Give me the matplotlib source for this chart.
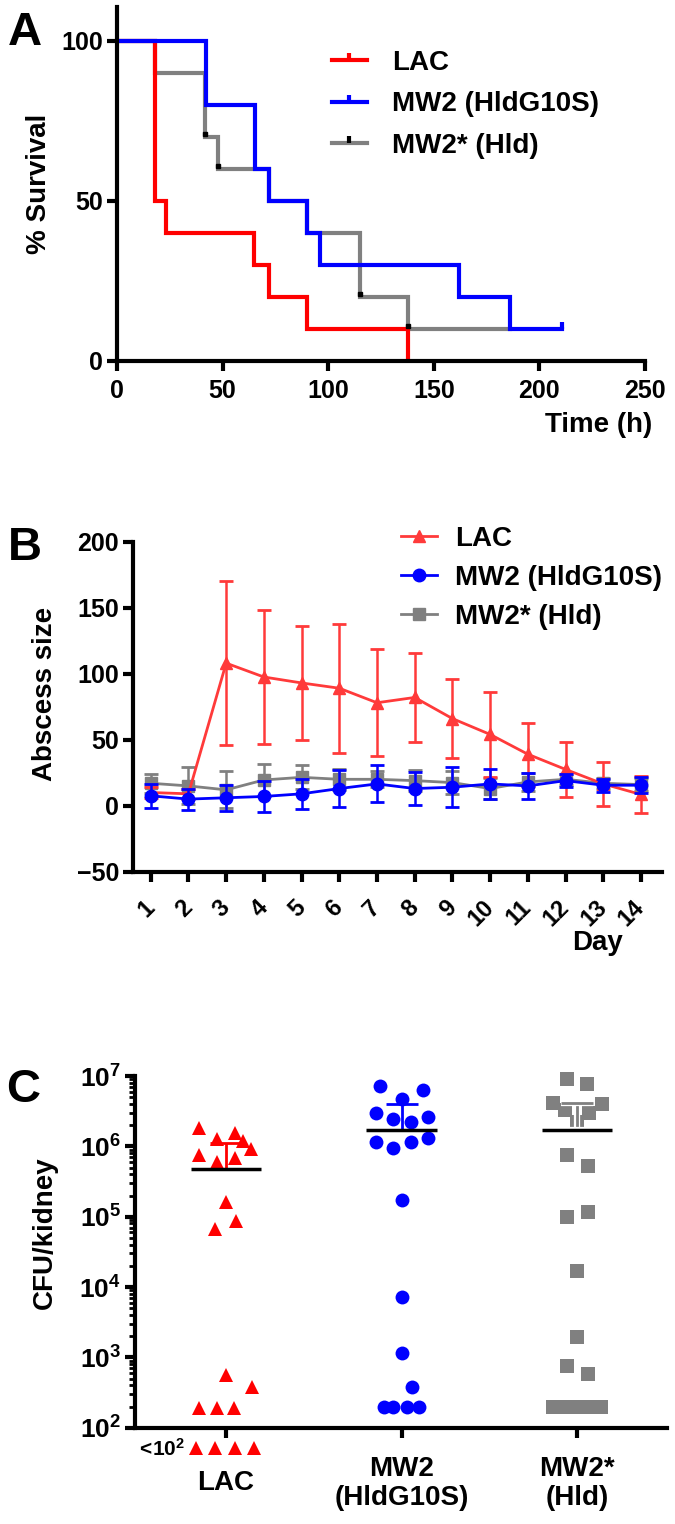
import numpy as np
import matplotlib
matplotlib.use("Agg")
import matplotlib.pyplot as plt
from matplotlib.lines import Line2D
from matplotlib.path import Path
import matplotlib.patheffects as pe

plt.rcParams['font.family'] = ['Liberation Sans', 'DejaVu Sans']
plt.rcParams['font.weight'] = 'bold'
plt.rcParams['axes.labelweight'] = 'bold'
plt.rcParams['axes.linewidth'] = 3
plt.rcParams['mathtext.fontset'] = 'custom'
plt.rcParams['mathtext.rm'] = 'Liberation Sans:bold'
plt.rcParams['mathtext.bf'] = 'Liberation Sans:bold'

RED, BLUE, GRAY = '#ff0000', '#0000ff', '#808080'
RED_B = '#ff3a3a'

# =========================
# A. survival data (time in h, % survival)
# =========================
names = ['LAC', 'MW2 (HldG10S)', 'MW2* (Hld)']
lac_t = [0, 18, 23, 65, 72, 90, 138]
lac_s = [100, 50, 40, 30, 20, 10, 0]
mw2_t = [0, 42, 65.5, 72, 90, 96, 162, 186, 210.5]
mw2_s = [100, 80, 60, 50, 40, 30, 20, 10, 10]
hld_t = [0, 18, 41.5, 48, 72, 90, 115, 138, 186]
hld_s = [100, 90, 70, 60, 50, 40, 20, 10, 10]
hld_cens_t = [41.5, 48, 115, 138]
hld_cens_s = [71, 61, 21, 11]
mw2_cens_t = [210.5]
mw2_cens_s = [10]

# =========================
# B. abscess size (mean, SD) per day
# =========================
days = np.arange(1, 15)
lac_m = [10, 9, 108, 97.5, 93, 89, 78, 82, 66, 54, 39, 27.5, 16.5, 8.5]
lac_sd = [4, 4, 62, 51, 43, 49, 40.5, 33.5, 30, 32, 24, 21, 16.5, 14]
mw2_m = [7.5, 5, 6, 7, 9, 13, 16.5, 13, 14, 16.5, 15, 19, 15.5, 15.5]
mw2_sd = [9, 8, 10, 12, 11.5, 14, 14, 12.5, 15, 11.5, 10, 5, 5, 6]
hld_m = [17, 15, 12, 19.5, 21.5, 20, 20, 19, 17.5, 13, 18, 20, 17, 16]
hld_sd = [7, 14, 14, 12, 9, 8, 6, 8, 9, 8, 7, 4, 4, 5]

# =========================
# C. CFU per kidney (jitter offsets)
# =========================
groups = ['LAC', 'MW2\n(HldG10S)', 'MW2*\n(Hld)']
lac_cfu = [1.82e6, 1.28e6, 1.54e6, 1.2e6, 9.1e5, 7.6e5, 6.9e5, 6.0e5, 1.64e5, 8.8e4, 6.6e4,
           5.6e2, 3.8e2, 1.9e2, 1.9e2, 1.9e2, 52, 52, 52, 52]
lac_dx = [-0.154, -0.053, 0.051, 0.095, 0.142, -0.154, 0.051, -0.053, 0, 0.057, -0.063,
          0, 0.15, -0.154, -0.053, 0.047, -0.171, -0.063, 0.051, 0.159]
mw2_cfu = [7.3e6, 6.3e6, 4.7e6, 3.0e6, 2.65e6, 2.45e6, 2.23e6, 1.17e6, 1.31e6, 1.15e6, 9.4e5,
           1.74e5, 7.3e3, 1.17e3, 3.8e2, 1.95e2, 1.95e2, 1.95e2, 1.95e2]
mw2_dx = [-0.12, 0.121, 0, -0.148, 0.152, -0.05, 0.055, -0.148, 0.152, 0.055, -0.05,
          0, 0, 0, 0.06, -0.1, -0.047, 0.032, 0.1]
hld_cfu = [9.0e6, 7.7e6, 4.1e6, 4.0e6, 3.3e6, 2.96e6, 2.2e6, 7.6e5, 5.3e5, 1.18e5, 1.0e5,
           1.7e4, 1.93e3, 7.6e2, 5.8e2, 2e2, 2e2, 2e2, 2e2, 2e2]
hld_dx = [-0.06, 0.057, -0.14, 0.139, -0.07, 0.068, 0, -0.06, 0.059, 0.059, -0.06,
          0, 0, -0.06, 0.059, -0.138, -0.07, 0, 0.07, 0.138]
cfu_mean = [4.75e5, 1.68e6, 1.68e6]
cfu_upper = [1.1e6, 4.0e6, 4.1e6]

W, H = 675, 1524
fig = plt.figure(figsize=(W / 100, H / 100), dpi=100)


def box(l, t, r, b):
    return [l / W, 1 - b / H, (r - l) / W, (b - t) / H]


def clean(ax):
    ax.spines['top'].set_visible(False)
    ax.spines['right'].set_visible(False)
    ax.tick_params(width=3, length=7, labelsize=18, pad=3)


up_tick = Path([(0, 0), (0, 1)])

# ---- A ----
axA = fig.add_axes(box(117, 7, 645, 361))
clean(axA)
for t, s, c in [(hld_t, hld_s, GRAY), (lac_t, lac_s, RED), (mw2_t, mw2_s, BLUE)]:
    axA.step(t, s, where='post', color=c, lw=3, solid_joinstyle='miter')
axA.plot(hld_cens_t, hld_cens_s, ls='none', marker='s', ms=3, color='black')
axA.plot(mw2_cens_t, mw2_cens_s, ls='none', marker=up_tick, ms=10, mew=3, mec=BLUE)
axA.set_xlim(0, 250)
axA.set_ylim(0, 110.6)
axA.set_xticks([0, 50, 100, 150, 200, 250])
axA.set_yticks([0, 50, 100])
axA.tick_params(axis='x', pad=6)
handlesA = [Line2D([], [], color=c, lw=3, marker=up_tick, ms=10, mew=3, mec=mc)
            for c, mc in [(RED, RED), (BLUE, BLUE), (GRAY, 'black')]]
axA.legend(handlesA, names, loc='upper left', bbox_to_anchor=(332 / W, 1 - 50 / H),
           bbox_transform=fig.transFigure, frameon=False, fontsize=20, borderpad=0,
           borderaxespad=0, handlelength=1.25, handletextpad=0.9, labelspacing=0.55)

# ---- B ----
axB = fig.add_axes(box(133, 541.7, 661.7, 871.7))
clean(axB)
styles = [(hld_m, hld_sd, GRAY, 's', 8, 1),
          (lac_m, lac_sd, RED_B, '^', 9, 2),
          (mw2_m, mw2_sd, BLUE, 'o', 9, 3)]
for m, sd, c, mk, ms, z in styles:
    axB.errorbar(days, m, yerr=sd, color=c, marker=mk, ms=ms, lw=2, elinewidth=1.8,
                 capsize=5, capthick=2, zorder=z)
axB.set_xlim(0.53, 14.55)
axB.set_ylim(-50, 200)
axB.set_yticks([-50, 0, 50, 100, 150, 200])
axB.set_xticks(days)
axB.set_xticklabels([str(d) for d in days], rotation=45, ha='right', va='center',
                    rotation_mode='anchor', fontsize=17)
axB.tick_params(axis='x', pad=16)
handlesB = [Line2D([], [], color=c, lw=2, marker=mk, ms=ms)
            for c, mk, ms in [(RED_B, '^', 9), (BLUE, 'o', 9), (GRAY, 's', 8)]]
axB.legend(handlesB, names, loc='upper left', bbox_to_anchor=(401 / W, 1 - 526 / H),
           bbox_transform=fig.transFigure, frameon=False, fontsize=20, borderpad=0,
           borderaxespad=0, handlelength=1.3, handletextpad=0.65, labelspacing=0.46)

# ---- C ----
axC = fig.add_axes(box(135, 1076, 666.7, 1427.7))
clean(axC)
axC.set_yscale('log')
axC.set_ylim(1e2, 1e7)
axC.set_xlim(-0.518, 2.51)
pts = [(lac_cfu, lac_dx, RED, '^', 10.5), (mw2_cfu, mw2_dx, BLUE, 'o', 10),
       (hld_cfu, hld_dx, GRAY, 's', 10)]
for i, (v, dx, c, mk, ms) in enumerate(pts):
    axC.plot(i + np.array(dx), v, ls='none', marker=mk, ms=ms, color=c, mew=0,
             clip_on=False, zorder=2)
err_cols = [RED, BLUE, GRAY]
for i in range(3):
    eb = axC.errorbar([i], [cfu_mean[i]], yerr=[[0], [cfu_upper[i] - cfu_mean[i]]],
                      color=err_cols[i], lw=2, capsize=11.5, capthick=2, zorder=3)
    if i == 2:
        for art in eb.lines[1] + eb.lines[2]:
            art.set_path_effects([pe.withStroke(linewidth=4.5, foreground='white')])
    axC.hlines(cfu_mean[i], i - 0.2, i + 0.2, color='black', lw=2.5, zorder=4)
axC.set_yticks([10.0 ** k for k in range(2, 8)])
axC.set_yticklabels([r'$\mathbf{10^{%d}}$' % k for k in range(2, 8)], fontsize=19)
axC.yaxis.set_minor_locator(matplotlib.ticker.LogLocator(base=10, subs=np.arange(2, 10)))
axC.yaxis.set_minor_formatter(matplotlib.ticker.NullFormatter())
axC.tick_params(axis='y', which='minor', width=2, length=4)
axC.set_xticks([0, 1, 2])
axC.set_xticklabels(groups, fontsize=20, va='center', linespacing=1.15)
axC.tick_params(axis='x', pad=33)

# ---- texts ----
fig.text(8 / W, 1 - 45 / H, 'A', fontsize=34, va='baseline')
fig.text(8 / W, 1 - 560 / H, 'B', fontsize=34, va='baseline')
fig.text(6 / W, 1 - 1102 / H, 'C', fontsize=34, va='baseline')
fig.text(39 / W, 1 - 184 / H, '% Survival', rotation=90, ha='center', va='center', fontsize=20)
fig.text(45 / W, 1 - 694 / H, 'Abscess size', rotation=90, ha='center', va='center', fontsize=20)
fig.text(45 / W, 1 - 1233 / H, 'CFU/kidney', rotation=90, ha='center', va='center', fontsize=20)
fig.text(545 / W, 1 - 425 / H, 'Time (h)', ha='left', va='center', fontsize=20)
fig.text(598 / W, 1 - 943 / H, 'Day', ha='center', va='center', fontsize=20)
fig.text(160 / W, 1 - 1449 / H, r'$\mathbf{<\!10^{2}}$', ha='center', va='center', fontsize=15)

fig.savefig('out.png', dpi=100)
